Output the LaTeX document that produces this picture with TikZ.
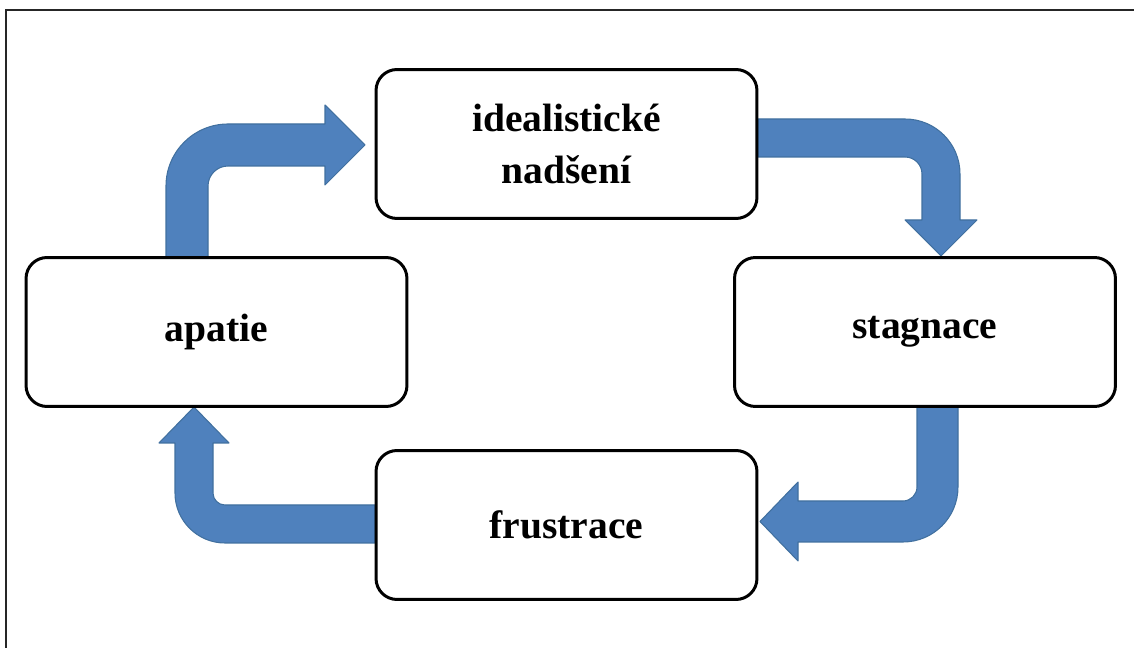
\documentclass[tikz,border=0pt]{standalone}
\usepackage{fontspec}
\setmainfont{Liberation Serif}
\definecolor{arrowfill}{HTML}{4F81BD}
\definecolor{arrowline}{HTML}{41709F}
\tikzset{
  stagebox/.style={draw=black, line width=1.7pt, fill=white, rounded corners=0.42cm,
    minimum width=7.62cm, minimum height=2.98cm, align=center,
    font=\fontsize{22.5}{29.6}\selectfont\bfseries},
  bentarrow/.style={fill=arrowfill, draw=arrowline, line width=0.6pt, line join=round},
  framestyle/.style={draw=black!85, line width=1.2pt}
}
\begin{document}
\begin{tikzpicture}[x=0.02cm, y=-0.02cm]
\useasboundingbox (0,0) rectangle (1134,648);
% outer frame (only top and left edges visible)
\draw[framestyle] (6,648) -- (6,10) -- (1134,10);

% arrow: apatie -> idealisticke nadseni
\path[bentarrow] (166,258) -- (166,186) .. controls (166,151.8) and (193.8,124) .. (228,124)
  -- (325,124) -- (325,105) -- (365,145) -- (325,185) -- (325,166) -- (228,166)
  .. controls (217,166) and (208,175) .. (208,186) -- (208,258) -- cycle;
% arrow: idealisticke nadseni -> stagnace
\path[bentarrow] (758,119) -- (905,119) .. controls (935.4,119) and (960,143.6) .. (960,174)
  -- (960,220) -- (977,220) -- (941,256) -- (905,220) -- (922,220) -- (922,174)
  .. controls (922,164.6) and (914.4,157) .. (905,157) -- (758,157) -- cycle;
% arrow: stagnace -> frustrace
\path[bentarrow] (917,407) -- (917,487) .. controls (917,494.7) and (910.7,501) .. (903,501)
  -- (798,501) -- (798,482) -- (760,521.5) -- (798,561) -- (798,542) -- (903,542)
  .. controls (933.4,542) and (958,517.4) .. (958,487) -- (958,407) -- cycle;
% arrow: frustrace -> apatie
\path[bentarrow] (375,505) -- (225,505) .. controls (218.4,505) and (213,499.6) .. (213,493)
  -- (213,443) -- (229,443) -- (194,407) -- (159,443) -- (175,443) -- (175,493)
  .. controls (175,520.6) and (197.4,543) .. (225,543) -- (375,543) -- cycle;

% boxes
\node[stagebox] (ideal) at (566.5,144) {idealistické\\nadšení};
\node[stagebox] (apatie) at (216.5,332) {apatie};
\node[stagebox] (stagnace) at (925,332) {stagnace};
\node[stagebox] (frustrace) at (566.5,525) {frustrace};
\end{tikzpicture}
\end{document}
